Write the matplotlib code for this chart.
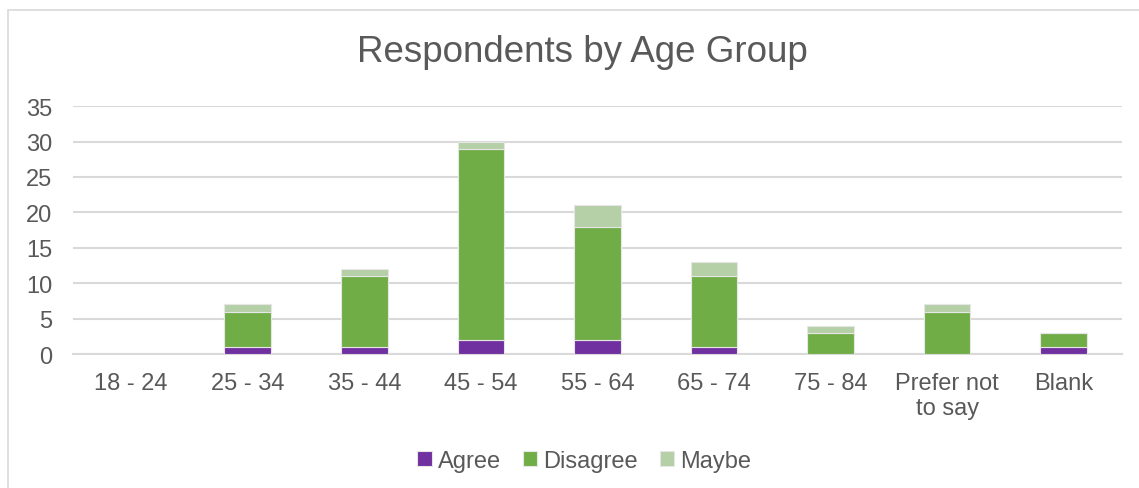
import matplotlib.pyplot as plt
from matplotlib.patches import Rectangle
import numpy as np

plt.rcParams['font.family'] = ['Liberation Sans', 'DejaVu Sans']

groups = ["18 - 24", "25 - 34", "35 - 44", "45 - 54", "55 - 64",
          "65 - 74", "75 - 84", "Prefer not\nto say", "Blank"]
agree = [0, 1, 1, 2, 2, 1, 0, 0, 1]
disagree = [0, 5, 10, 27, 16, 10, 3, 6, 2]
maybe = [0, 1, 1, 1, 3, 2, 1, 1, 0]

text_col = "#595959"
grid_col = "#D9D9D9"

fig = plt.figure(figsize=(11.39, 4.89), dpi=100)
ax = fig.add_axes([0.064, 0.274, 0.921, 0.507])

x = np.arange(len(groups))
w = 0.40
agree = np.array(agree)
disagree = np.array(disagree)
maybe = np.array(maybe)
ax.bar(x, agree, w, color="#7030A0", edgecolor="#E6E6E6", linewidth=0.8, label="Agree", zorder=3)
ax.bar(x, disagree, w, bottom=agree, color="#70AD47", edgecolor="#E6E6E6", linewidth=0.8,
       label="Disagree", zorder=3)
ax.bar(x, maybe, w, bottom=agree + disagree, color="#B5CFA7", edgecolor="#E6E6E6", linewidth=0.8,
       label="Maybe", zorder=3)

ax.set_xlim(-0.5, len(groups) - 0.5)
ax.set_ylim(0, 35)
ax.set_yticks(range(0, 36, 5))
ax.set_xticks(x)
ax.set_xticklabels(groups, linespacing=1.15)
ax.yaxis.grid(True, color=grid_col, linewidth=1.5, zorder=0)
for s in ["top", "right", "left"]:
    ax.spines[s].set_visible(False)
ax.spines["bottom"].set_color(grid_col)
ax.spines["bottom"].set_linewidth(1.5)
ax.tick_params(axis="both", length=0, labelsize=17, labelcolor=text_col)
ax.tick_params(axis="y", pad=15)
ax.tick_params(axis="x", pad=13)

fig.text(0.511, 0.893, "Respondents by Age Group", ha="center", va="center",
         fontsize=26.5, color=text_col)

leg = fig.legend(loc="center", bbox_to_anchor=(0.513, 0.055), ncol=3, frameon=False,
                 fontsize=17, handlelength=0.6, handleheight=0.6, handletextpad=0.25,
                 columnspacing=0.95)
for t in leg.get_texts():
    t.set_color(text_col)

# light frame round the chart area
fig.patches.append(Rectangle((8 / 1139, -0.05), 1.2, 1 - 11 / 489 + 0.05,
                             transform=fig.transFigure, fill=False,
                             edgecolor="#D9D9D9", linewidth=1.2))

fig.savefig("out.png", dpi=100)
